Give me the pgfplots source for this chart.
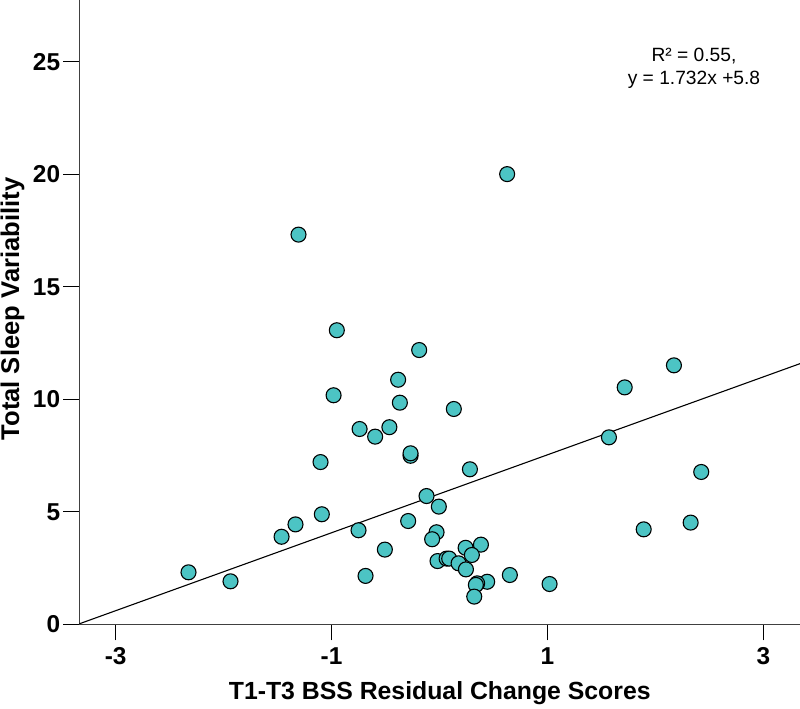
\documentclass[border=0pt]{standalone}
\usepackage{fontspec}
\setmainfont{Liberation Sans}
\usepackage{pgfplots}
\pgfplotsset{compat=1.18}
\definecolor{dotfill}{RGB}{76,196,196}
\begin{document}
\begin{tikzpicture}
\begin{axis}[
  name=ax,
  scale only axis,
  width=360.25pt, height=312.15pt,
  xmin=-3.335, xmax=3.34,
  ymin=0, ymax=27.75,
  axis x line=bottom, axis y line=left,
  axis line style={-, line width=0.6pt, black!75},
  xtick={-3,-1,1,3}, ytick={0,5,10,15,20,25},
  tick align=outside,
  major tick length=8pt,
  tick style={line width=0.6pt, black},
  /pgf/number format/assume math mode=true,
  ticklabel style={font=\fontsize{12.2}{14}\selectfont\bfseries},
  yticklabel style={inner xsep=1.5pt},
  xlabel={T1-T3 BSS Residual Change Scores},
  ylabel={Total Sleep Variability},
  xlabel style={font=\fontsize{12.4}{14}\selectfont\bfseries, at={(axis description cs:0.5,0)}, anchor=base, yshift=-37.85pt},
  ylabel style={font=\fontsize{12.8}{14}\selectfont\bfseries, at={([xshift=-33.5pt]axis description cs:0,0.505)}, anchor=center},
  clip=true,
]
\addplot[black, line width=0.55pt] coordinates {(-3.34,0.015) (3.34,11.585)};
\addplot[only marks, mark=*, mark size=3.75pt, mark options={fill=dotfill, draw=black, line width=0.55pt}] coordinates {
(-2.325,2.31) (-1.936,1.91) (-1.463,3.89) (-1.334,4.44) (-1.090,4.89)
(-1.102,7.21) (-0.981,10.18) (-0.951,13.07) (-1.306,17.32) (-0.740,8.68)
(-0.596,8.34) (-0.464,8.76) (-0.383,10.87) (-0.367,9.85) (-0.750,4.18)
(-0.506,3.32) (-0.685,2.15) (-0.188,12.19) (0.133,9.57) (-0.268,7.49)
(-0.268,7.60) (0.282,6.89) (-0.120,5.70) (-0.006,5.23) (-0.290,4.59)
(-0.027,4.09) (-0.068,3.78) (0.242,3.40) (0.384,3.54) (0.300,3.08)
(-0.018,2.81) (0.066,2.92) (0.090,2.92) (0.177,2.71) (0.245,2.44)
(0.442,1.89) (0.349,1.82) (0.337,1.75) (0.322,1.23) (0.652,2.19)
(1.020,1.79) (0.627,20.01) (1.570,8.31) (1.716,10.53) (2.172,11.51)
(2.425,6.77) (2.327,4.52) (1.892,4.22)
};
\node[align=center, font=\fontsize{9.6}{11.5}\selectfont] at (axis cs:2.358,24.72) {R² = 0.55,\\ y = 1.732x +5.8};
\end{axis}
\pgfresetboundingbox
\path[use as bounding box] (ax.south west) ++(-39.75pt,-42.35pt) rectangle (ax.north east);
\end{tikzpicture}
\end{document}
